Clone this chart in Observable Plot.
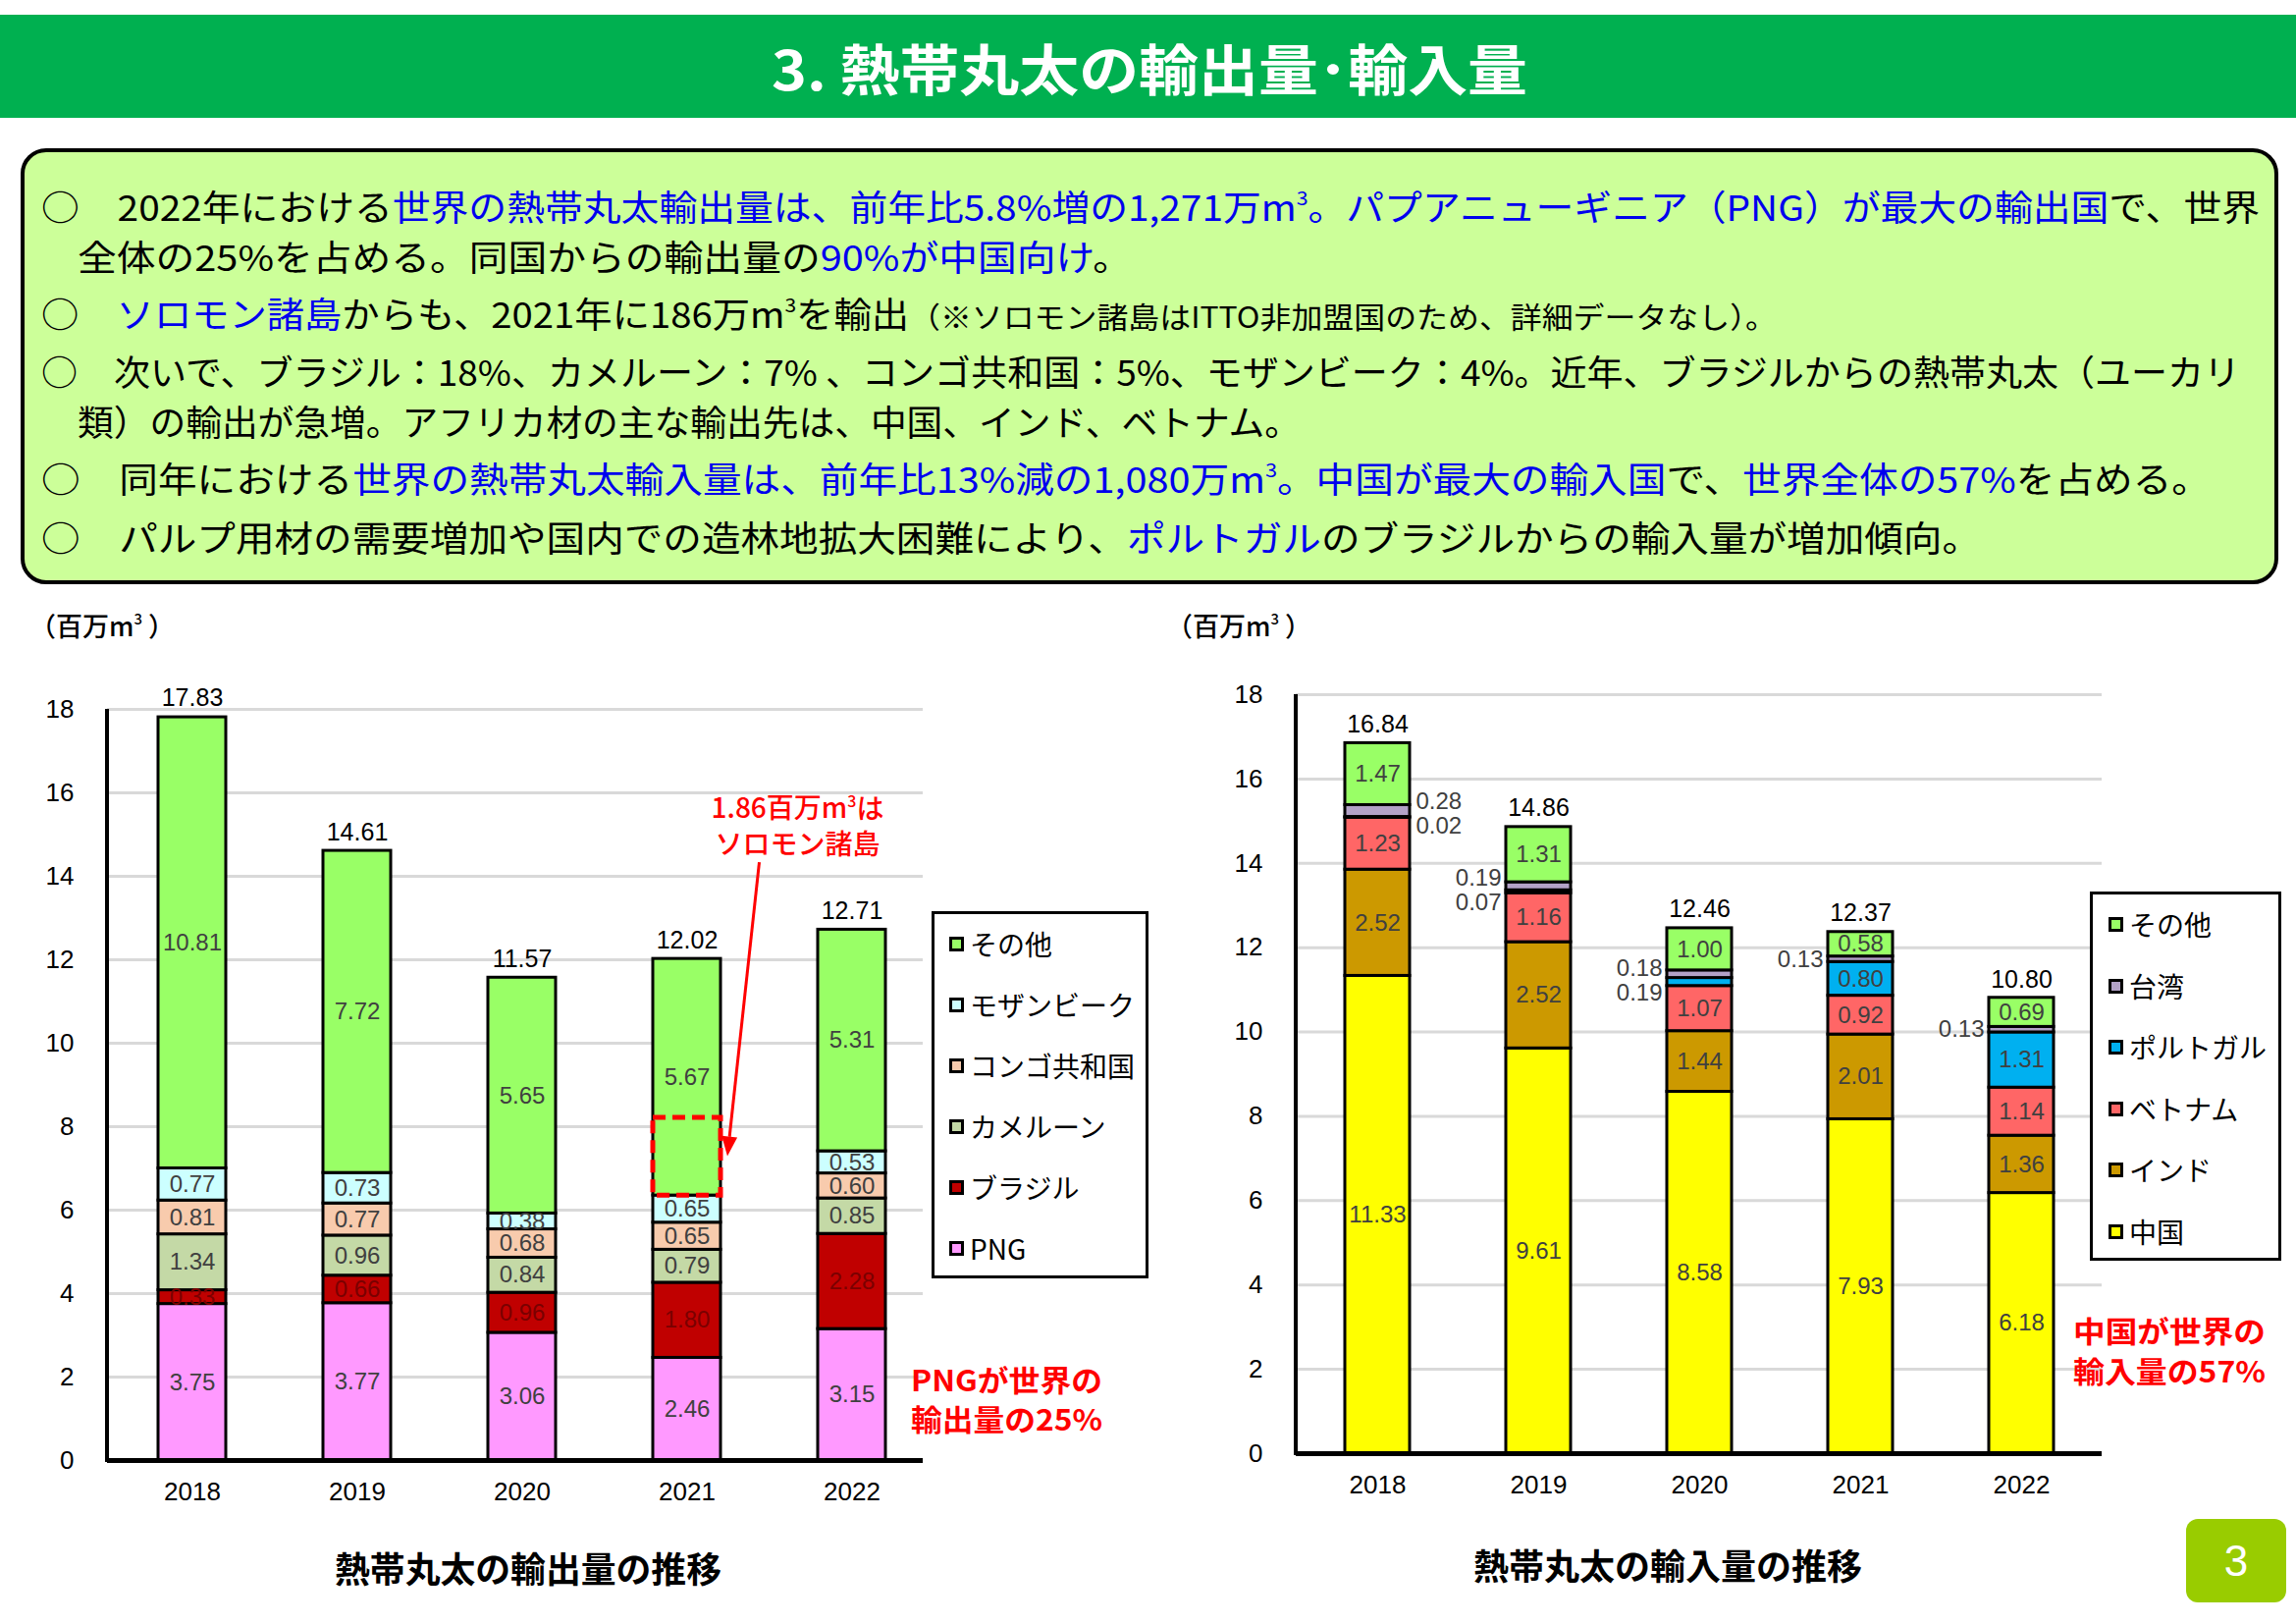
<!DOCTYPE html>
<html><head><meta charset="utf-8">
<script src="https://cdn.jsdelivr.net/npm/d3@7"></script>
<script src="https://cdn.jsdelivr.net/npm/@observablehq/plot@0.6"></script>
<style>
body{margin:0;background:#fff;width:2339px;height:1654px;position:relative;overflow:hidden;font-family:"Noto Sans CJK JP",sans-serif;color:#000;}
.abs{position:absolute;white-space:nowrap;}
.line{font-size:36px;line-height:44px;transform-origin:0 50%;}
.b{color:#0000EE;}
.sm{font-size:30px;}
sup{font-size:0.55em;vertical-align:0.8em;line-height:0;}
.leg{position:absolute;border:3px solid #000;background:#fff;box-sizing:border-box;}
.sw{position:absolute;width:15px;height:15px;border:3px solid #000;box-sizing:border-box;}
.lt{position:absolute;font-size:28px;line-height:36px;white-space:nowrap;}
.red{color:#FF0000;font-weight:700;font-size:30px;line-height:40px;transform-origin:0 50%;}
.ctitle{font-weight:700;font-size:36px;line-height:44px;transform-origin:50% 50%;}
.unit{font-size:27px;line-height:34px;font-weight:500;}
</style>
</head><body>
<script>
// ---------------- data ----------------
const years = ["2018","2019","2020","2021","2022"];

const exportSeries = ["PNG","ブラジル","カメルーン","コンゴ共和国","モザンビーク","その他"];
const exportPNG        = [3.75, 3.77, 3.06, 2.46, 3.15];
const exportBrazil     = [0.33, 0.66, 0.96, 1.80, 2.28];
const exportCameroon   = [1.34, 0.96, 0.84, 0.79, 0.85];
const exportCongo      = [0.81, 0.77, 0.68, 0.65, 0.60];
const exportMozambique = [0.77, 0.73, 0.38, 0.65, 0.53];
const exportOther      = [10.81, 7.72, 5.65, 5.67, 5.31];
const exportTotal      = [17.83, 14.61, 11.57, 12.02, 12.71];
const exportColors = ["#FF99FF","#C00000","#C4D9A6","#F8CBAD","#CCFFFF","#99FF66"];

const importSeries = ["中国","インド","ベトナム","ポルトガル","台湾","その他"];
const importChina    = [11.33, 9.61, 8.58, 7.93, 6.18];
const importIndia    = [2.52, 2.52, 1.44, 2.01, 1.36];
const importVietnam  = [1.23, 1.16, 1.07, 0.92, 1.14];
const importPortugal = [0.02, 0.07, 0.19, 0.80, 1.31];
const importTaiwan   = [0.28, 0.19, 0.18, 0.13, 0.13];
const importOther    = [1.47, 1.31, 1.00, 0.58, 0.69];
const importTotal    = [16.84, 14.86, 12.46, 12.37, 10.80];
const importColors = ["#FFFF00","#CC9900","#FF6666","#00B0F0","#B3A2C7","#99FF66"];

const yTicks = [0,2,4,6,8,10,12,14,16,18];
const solomonYear = "2021";
const solomonValue = 1.86;

// ---------------- helpers ----------------
const fmt = d3.format(".2f");
const numFont = '"Liberation Sans", Arial, sans-serif';

function tidy(series, cols) {
  const rows = [];
  years.forEach((yr, i) => series.forEach((s, j) => rows.push({year: yr, series: s, value: cols[j][i]})));
  return rows;
}
const exportTable = tidy(exportSeries, [exportPNG, exportBrazil, exportCameroon, exportCongo, exportMozambique, exportOther]);
const importTable = tidy(importSeries, [importChina, importIndia, importVietnam, importPortugal, importTaiwan, importOther]);
const exportTotals = years.map((yr, i) => ({year: yr, total: exportTotal[i]}));
const importTotals = years.map((yr, i) => ({year: yr, total: importTotal[i]}));

function add(html, cls, style) {
  const d = document.createElement("div");
  d.className = "abs " + (cls || "");
  d.innerHTML = html;
  Object.assign(d.style, style || {});
  document.body.appendChild(d);
  return d;
}
const fits = [];
function fitLater(el, w) { fits.push([el, w]); }
function doFits() {
  for (const [el, w] of fits) {
    el.style.transform = "none";
    const r = el.getBoundingClientRect().width;
    if (r > 0) el.style.transform = `scaleX(${w / r})`;
  }
}

function yAxisLine(index, scales, values, dims) {
  return d3.create("svg:line")
    .attr("x1", dims.marginLeft).attr("x2", dims.marginLeft)
    .attr("y1", scales.y(0) + 2).attr("y2", scales.y(yTicks[yTicks.length - 1]))
    .attr("stroke", "#000").attr("stroke-width", 4).node();
}

function baseChart(opts) {
  return Plot.plot({
    width: opts.width, height: 960,
    marginTop: opts.mt, marginBottom: opts.mb, marginLeft: opts.ml, marginRight: opts.mr,
    style: {fontFamily: numFont, fontSize: "26px", background: "transparent", overflow: "visible"},
    x: {domain: years, range: opts.xr, padding: opts.pad, label: null, tickSize: 0, tickPadding: 22},
    y: {domain: [0, 18], ticks: yTicks, label: null, tickSize: 0, tickPadding: 34},
    color: {domain: opts.series, range: opts.colors},
    marks: [
      Plot.ruleY(yTicks.filter(t => t > 0), {stroke: "#D9D9D9", strokeWidth: 3}),
      Plot.barY(opts.table, Plot.stackY({x: "year", y: "value", fill: "series", stroke: "#000", strokeWidth: 3})),
      ...opts.labels,
      Plot.text(opts.totals, {x: "year", y: "total", text: d => fmt(d.total), dy: -19, fontSize: 25, fill: "#000"}),
      Plot.ruleY([0], {stroke: "#000", strokeWidth: 5}),
      yAxisLine,
      ...(opts.extra || [])
    ]
  });
}

// ---------------- title & text box ----------------
add("", "", {left: "0px", top: "15px", width: "2339px", height: "105px", background: "#00B050"});
const title = add("3. 熱帯丸太の輸出量･輸入量", "", {left: "786px", top: "33px", color: "#fff", fontWeight: "700", fontSize: "56px", lineHeight: "70px", transformOrigin: "0 50%"});
fitLater(title, 770);

add("", "", {left: "21px", top: "151px", width: "2292px", height: "436px", border: "4px solid #000", borderRadius: "26px", background: "#CCFF99"});

const lines = [
  [42, 209, 2260, '○　2022年における<span class="b">世界の熱帯丸太輸出量は、前年比5.8%増の1,271万m<sup>3</sup>。パプアニューギニア（PNG）が最大の輸出国</span>で、世界'],
  [79, 260, 1074, '全体の25%を占める。同国からの輸出量の<span class="b">90%が中国向け</span>。'],
  [42, 318, 1768, '○　<span class="b">ソロモン諸島</span>からも、2021年に186万m<sup>3</sup>を輸出<span class="sm">（※ソロモン諸島はITTO非加盟国のため、詳細データなし）。</span>'],
  [42, 377, 2240, '○　次いで、ブラジル：18%、カメルーン：7% 、コンゴ共和国：5%、モザンビーク：4%。近年、ブラジルからの熱帯丸太（ユーカリ'],
  [79, 428, 1246, '類）の輸出が急増。アフリカ材の主な輸出先は、中国、インド、ベトナム。'],
  [42, 486, 2210, '○　同年における<span class="b">世界の熱帯丸太輸入量は、前年比13%減の1,080万m<sup>3</sup>。中国が最大の輸入国</span>で、<span class="b">世界全体の57%</span>を占める。'],
  [42, 546, 1976, '○　パルプ用材の需要増加や国内での造林地拡大困難により、<span class="b">ポルトガル</span>のブラジルからの輸入量が増加傾向。']
];
for (const [x, y, w, html] of lines) {
  const el = add(html, "line", {left: x + "px", top: (y - 22) + "px"});
  fitLater(el, w);
}

// ---------------- export chart ----------------
const exportLabels = [
  Plot.text(exportTable, Plot.stackY({x: "year", y: "value", z: "series",
    text: d => d.series !== "ブラジル" ? fmt(d.value) : null, fill: "#404040", fontSize: 24})),
  Plot.text(exportTable, Plot.stackY({x: "year", y: "value", z: "series",
    text: d => d.series === "ブラジル" ? fmt(d.value) : null, fill: "#7A0000", fontSize: 24}))
];

const solIdx = years.indexOf(solomonYear);
const solomonBase = exportPNG[solIdx] + exportBrazil[solIdx] + exportCameroon[solIdx] + exportCongo[solIdx] + exportMozambique[solIdx];

function solomonMark(index, scales, values, dims) {
  const x = scales.x, y = scales.y;
  const bw = x.bandwidth ? x.bandwidth() : 69;
  const left = x(solomonYear), right = left + bw, cx = left + bw / 2;
  const yTop = y(solomonBase + solomonValue), yBot = y(solomonBase);
  const g = d3.create("svg:g");
  g.append("rect").attr("x", left).attr("y", yTop).attr("width", bw).attr("height", yBot - yTop)
    .attr("fill", "none").attr("stroke", "#FF0000").attr("stroke-width", 5).attr("stroke-dasharray", "13,7");
  const lx = cx + 113, ly1 = yTop - 315, ly2 = yTop - 278;
  const t1 = g.append("text").attr("x", lx).attr("y", ly1).attr("dy", "0.35em").attr("text-anchor", "middle")
    .attr("fill", "#FF0000").attr("font-size", 28).attr("font-family", '"Noto Sans CJK JP", sans-serif').attr("font-weight", 500);
  t1.append("tspan").text("1.86百万m");
  t1.append("tspan").attr("font-size", 16).attr("dy", "-0.7em").text("3");
  t1.append("tspan").attr("dy", "0.45em").text("は");
  g.append("text").attr("x", lx).attr("y", ly2).attr("dy", "0.35em").attr("text-anchor", "middle")
    .attr("fill", "#FF0000").attr("font-size", 28).attr("font-family", '"Noto Sans CJK JP", sans-serif').attr("font-weight", 500)
    .text("ソロモン諸島");
  const x0 = cx + 74, y0 = ly2 + 18, x1 = right + 7, y1 = (yTop + yBot) / 2;
  const ang = Math.atan2(y1 - y0, x1 - x0), L = 20, W = 8;
  const bx = x1 - L * Math.cos(ang), by = y1 - L * Math.sin(ang);
  g.append("line").attr("x1", x0).attr("y1", y0).attr("x2", bx).attr("y2", by).attr("stroke", "#FF0000").attr("stroke-width", 3);
  g.append("polygon").attr("fill", "#FF0000").attr("points", [
    [x1, y1],
    [bx + W * Math.sin(ang), by - W * Math.cos(ang)],
    [bx - W * Math.sin(ang), by + W * Math.cos(ang)]
  ].map(p => p.join(",")).join(" "));
  return g.node();
}

const exportChart = baseChart({
  width: 1200, mt: 122, mb: 73, ml: 109, mr: 260, xr: [60, 1002], pad: 0.59,
  series: exportSeries, colors: exportColors, table: exportTable, totals: exportTotals,
  labels: exportLabels, extra: [solomonMark]
});
const ew = document.createElement("div");
ew.className = "abs"; Object.assign(ew.style, {left: "0px", top: "600px"});
ew.appendChild(exportChart); document.body.appendChild(ew);

// ---------------- import chart ----------------
const importOutside = [];
years.forEach((yr, i) => {
  const base = importChina[i] + importIndia[i] + importVietnam[i];
  const side = i === 0 ? "right" : "left";
  const pt = importPortugal[i], tw = importTaiwan[i];
  if (pt < 0.5) {
    const mid = base + (pt + tw) / 2;
    importOutside.push({year: yr, y: mid, text: fmt(tw), role: "upper", side});
    importOutside.push({year: yr, y: mid, text: fmt(pt), role: "lower", side});
  } else {
    importOutside.push({year: yr, y: base + pt + tw / 2, text: fmt(tw), role: "solo", side});
  }
});
const roleDy = {upper: -10, lower: 15, solo: 0};
const sideOpt = {right: {dx: 39, textAnchor: "start"}, left: {dx: -38, textAnchor: "end"}};
const outsideMarks = [];
for (const role of ["upper", "lower", "solo"]) for (const side of ["right", "left"]) {
  const subset = importOutside.filter(d => d.role === role && d.side === side);
  if (subset.length) outsideMarks.push(Plot.text(subset, {x: "year", y: "y", text: "text", dy: roleDy[role], ...sideOpt[side], fill: "#404040", fontSize: 24}));
}
const importLabels = [
  Plot.text(importTable, Plot.stackY({x: "year", y: "value", z: "series",
    text: d => d.value >= 0.5 ? fmt(d.value) : null, fill: "#404040", fontSize: 24})),
  ...outsideMarks
];
const importChart = baseChart({
  width: 1159, mt: 107, mb: 80, ml: 140, mr: 198, xr: [90, 1012], pad: 0.6,
  series: importSeries, colors: importColors, table: importTable, totals: importTotals,
  labels: importLabels
});
const iw = document.createElement("div");
iw.className = "abs"; Object.assign(iw.style, {left: "1180px", top: "600px"});
iw.appendChild(importChart); document.body.appendChild(iw);

// ---------------- unit labels, legends, annotations ----------------
add("（百万m<sup>3</sup> ）", "unit", {left: "30px", top: "620px"});
add("（百万m<sup>3</sup> ）", "unit", {left: "1188px", top: "620px"});

function legend(series, colors, box, swX, txtX, y0, step) {
  const b = document.createElement("div");
  b.className = "leg";
  Object.assign(b.style, {left: box[0] + "px", top: box[1] + "px", width: box[2] + "px", height: box[3] + "px"});
  document.body.appendChild(b);
  const items = series.map((s, i) => ({s, c: colors[i]})).reverse();
  items.forEach((it, k) => {
    const cy = y0 + k * step;
    add("", "sw", {left: swX + "px", top: (cy - 7) + "px", background: it.c});
    add(it.s, "lt", {left: txtX + "px", top: (cy - 18) + "px"});
  });
}
legend(exportSeries, exportColors, [949, 928, 221, 374], 967, 988, 961, 62);
legend(importSeries, importColors, [2129, 908, 195, 376], 2148, 2169, 941, 62.5);

const r1 = add("PNGが世界の", "red", {left: "928px", top: "1384px"}); fitLater(r1, 195);
const r2 = add("輸出量の25%", "red", {left: "928px", top: "1424px"}); fitLater(r2, 195);
const r3 = add("中国が世界の", "red", {left: "2112px", top: "1334px"}); fitLater(r3, 196);
const r4 = add("輸入量の57%", "red", {left: "2112px", top: "1375px"}); fitLater(r4, 196);

const t1 = add("熱帯丸太の輸出量の推移", "ctitle", {left: "340px", top: "1574px"}); fitLater(t1, 394);
const t2 = add("熱帯丸太の輸入量の推移", "ctitle", {left: "1501px", top: "1571px"}); fitLater(t2, 396);

add("3", "", {left: "2227px", top: "1547px", width: "102px", height: "85px", background: "#99CC00", borderRadius: "12px",
  color: "#fff", fontSize: "44px", lineHeight: "85px", textAlign: "center", fontFamily: numFont});

doFits();
if (document.fonts && document.fonts.ready) document.fonts.ready.then(doFits);
</script>
</body></html>
